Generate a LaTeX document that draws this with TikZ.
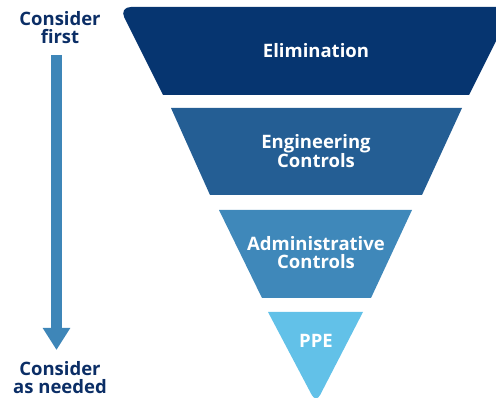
\documentclass[tikz,border=0pt]{standalone}
\usepackage{fontspec}
\setmainfont{Open Sans}
\usetikzlibrary{arrows.meta}
\definecolor{navy}{HTML}{0B2E66}
\definecolor{elim}{HTML}{063570}
\definecolor{engc}{HTML}{245E94}
\definecolor{admc}{HTML}{3F88BA}
\definecolor{ppec}{HTML}{62C1E8}
\definecolor{arrc}{HTML}{3E86B8}
\tikzset{
  lvl/.style={text=white, font=\fontsize{18.5}{18}\selectfont\bfseries, align=center},
  side/.style={text=navy, font=\fontsize{18.5}{18}\selectfont\bfseries, align=center},
  bigarrow/.style={draw=arrc, line width=11pt, -{Triangle[width=26pt,length=22pt]}}
}
\begin{document}
\begin{tikzpicture}[x=1pt,y=-1pt]
\useasboundingbox (0,0) rectangle (496,398);
\clip (0,0) rectangle (496,398);
% funnel bands
\fill[elim] (163,95) [rounded corners=12pt] -- (119,7) -- (513,7) [sharp corners] -- (469,95) -- cycle;
\fill[engc] (171,108) -- (462,108) -- (422,195) -- (210,195) -- cycle;
\fill[admc] (219,210) -- (412,210) -- (371,298) -- (262,298) -- cycle;
\fill[ppec] (268,312) -- (363,312) [rounded corners=9pt] -- (316,403) [sharp corners] -- cycle;
% labels
\node[lvl] (elimination) at (316,51) {Elimination};
\node[lvl] (engineering) at (316,151) {Engineering\\Controls};
\node[lvl] (administrative) at (316,253) {Administrative\\Controls};
\node[lvl] (ppe) at (316,341) {PPE};
\node[side] (first) at (60,28) {Consider\\first};
\node[side] (needed) at (60,378) {Consider\\as needed};
% arrow
\coordinate (a1) at (56.5,55);
\coordinate (a2) at (56.5,350);
\draw[bigarrow] (a1) -- (a2);
\end{tikzpicture}
\end{document}
